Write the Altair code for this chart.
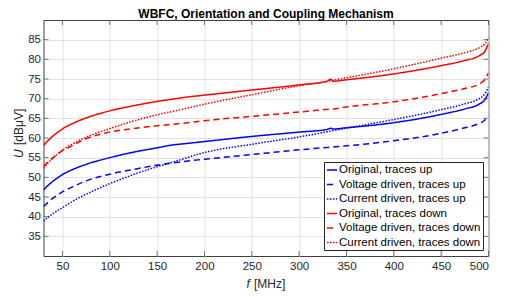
import altair as alt
import pandas as pd

freq = [30, 35, 40, 50, 60, 75, 100, 125, 150, 167, 175, 200, 250, 300,
        330, 333, 336, 350, 400, 450, 475, 490, 496, 500]

orig_up = [46.8, 48.0, 49.0, 50.7, 51.9, 53.3, 55.0, 56.4, 57.5, 58.25, 58.45, 59.1, 60.4, 61.5,
           62.2, 62.5, 62.3, 62.6, 63.9, 66.0, 67.4, 68.6, 69.7, 71.5]
volt_up = [42.6, 43.7, 44.7, 46.3, 47.5, 49.1, 50.8, 52.0, 53.1, 53.7, 53.95, 54.6, 55.8, 57.0,
           57.6, 57.65, 57.7, 58.0, 59.3, 61.2, 62.6, 63.7, 64.5, 65.6]
curr_up = [38.8, 39.9, 40.8, 42.3, 43.8, 45.7, 48.4, 50.7, 52.7, 53.9, 54.5, 56.3, 58.4, 60.3,
           61.6, 61.75, 61.9, 62.5, 64.7, 67.2, 68.7, 70.0, 71.2, 73.0]
orig_down = [58.1, 59.4, 60.5, 62.3, 63.6, 65.1, 66.9, 68.2, 69.3, 69.9, 70.2, 70.9, 72.2, 73.5,
             74.5, 74.95, 74.45, 74.8, 76.3, 78.4, 79.7, 80.9, 82.0, 84.0]
volt_down = [52.8, 54.0, 55.0, 56.8, 58.0, 59.8, 61.5, 62.4, 63.1, 63.5, 63.7, 64.4, 65.5, 66.6,
             67.3, 67.35, 67.4, 67.9, 69.2, 71.3, 72.6, 73.7, 74.8, 76.6]
curr_down = [52.3, 53.7, 54.9, 56.9, 58.4, 60.2, 62.4, 64.3, 65.9, 66.8, 67.2, 68.6, 71.0, 73.3,
             74.4, 74.55, 74.7, 75.3, 77.6, 80.3, 81.7, 82.9, 83.9, 85.5]

series_names = ["Original, traces up", "Voltage driven, traces up", "Current driven, traces up",
                "Original, traces down", "Voltage driven, traces down", "Current driven, traces down"]
series_values = [orig_up, volt_up, curr_up, orig_down, volt_down, curr_down]
series_colors = ["#0000ff", "#0000ff", "#0000ff", "#ff0000", "#ff0000", "#ff0000"]
series_dash = [[1, 0], [6, 4], [1.5, 1.5], [1, 0], [6, 4], [1.5, 1.5]]

x_ticks = [50, 100, 150, 200, 250, 300, 350, 400, 450, 500]
y_ticks = [35, 40, 45, 50, 55, 60, 65, 70, 75, 80, 85]

title_text = "WBFC, Orientation and Coupling Mechanism"
x_title = ["f", "[MHz]"]
y_title = ["U", "[dBμV]"]

rows = []
for name, vals in zip(series_names, series_values):
    for f, v in zip(freq, vals):
        rows.append({"f": f, "U": v, "series": name})
df = pd.DataFrame(rows)

W, H = 445, 236
xs = alt.Scale(domain=[30, 500], nice=False, zero=False)
ys = alt.Scale(domain=[30, 90], nice=False, zero=False)
TXT = "#262626"

xa = alt.Axis(values=x_ticks, title=None, grid=True, gridColor="#e2e2e2",
              ticks=False, domain=False, labelPadding=4, labelFontSize=11.5,
              labelOverlap=False, labelColor=TXT)
ya = alt.Axis(values=y_ticks, title=None, grid=True, gridColor="#e2e2e2",
              ticks=False, domain=False, labelPadding=3, labelFontSize=11.5,
              labelOverlap=False, labelColor=TXT)

legend_kw = dict(title=None, orient="none", legendX=280.5, legendY=142,
                 symbolType="stroke", symbolSize=100, symbolStrokeWidth=1.5,
                 labelFontSize=11.5, labelColor="#000", labelLimit=300,
                 fillColor="white", strokeColor="#262626", padding=2,
                 rowPadding=2.5, labelOffset=1, cornerRadius=0)

lines = alt.Chart(df).mark_line(strokeWidth=1.5, interpolate="monotone", clip=True).encode(
    x=alt.X("f:Q", scale=xs, axis=xa),
    y=alt.Y("U:Q", scale=ys, axis=ya),
    color=alt.Color("series:N", sort=series_names,
                    scale=alt.Scale(domain=series_names, range=series_colors),
                    legend=alt.Legend(**legend_kw)),
    strokeDash=alt.StrokeDash("series:N", sort=series_names,
                              scale=alt.Scale(domain=series_names, range=series_dash),
                              legend=alt.Legend(**legend_kw)),
)

xt = pd.DataFrame({"v": x_ticks})
yt = pd.DataFrame({"v": y_ticks})
tick_color = "#404040"
xb = alt.Chart(xt).mark_tick(orient="vertical", size=5, thickness=1, color=tick_color).encode(
    x=alt.X("v:Q", scale=xs, axis=xa), y=alt.value(H - 2.5))
xtp = alt.Chart(xt).mark_tick(orient="vertical", size=5, thickness=1, color=tick_color).encode(
    x=alt.X("v:Q", scale=xs, axis=xa), y=alt.value(2.5))
yl = alt.Chart(yt).mark_tick(orient="horizontal", size=5, thickness=1, color=tick_color).encode(
    y=alt.Y("v:Q", scale=ys, axis=ya), x=alt.value(2.5))
yr = alt.Chart(yt).mark_tick(orient="horizontal", size=5, thickness=1, color=tick_color).encode(
    y=alt.Y("v:Q", scale=ys, axis=ya), x=alt.value(W - 2.5))

one = pd.DataFrame({"k": [0]})


def label(text, x, y, **kw):
    return alt.Chart(one).mark_text(text=text, **kw).encode(x=alt.value(x), y=alt.value(y))


title = label(title_text, W / 2, -2.5, fontSize=12, fontWeight="bold", color="#000",
              align="center", baseline="alphabetic")
xt1 = label(x_title[0], 203, H + 28, fontSize=12, fontStyle="italic", color=TXT,
            align="left", baseline="middle")
xt2 = label(x_title[1], 210.5, H + 28, fontSize=12, color=TXT, align="left", baseline="middle")
yt1 = label(y_title[0], -24.5, 138, fontSize=12, fontStyle="italic", color=TXT,
            align="left", baseline="middle", angle=270)
yt2 = label(y_title[1], -24.5, 125, fontSize=12, color=TXT, align="left",
            baseline="middle", angle=270)

chart = alt.layer(lines, xb, xtp, yl, yr, title, xt1, xt2, yt1, yt2).properties(
    width=W, height=H,
    autosize=alt.AutoSizeParams(type="none"),
    padding={"left": 35.5, "top": 12, "right": 10, "bottom": 41},
).configure(font="Liberation Sans").configure_view(stroke="#404040", strokeWidth=1)

chart.save("out.html", embed_options={"renderer": "svg", "actions": False})
